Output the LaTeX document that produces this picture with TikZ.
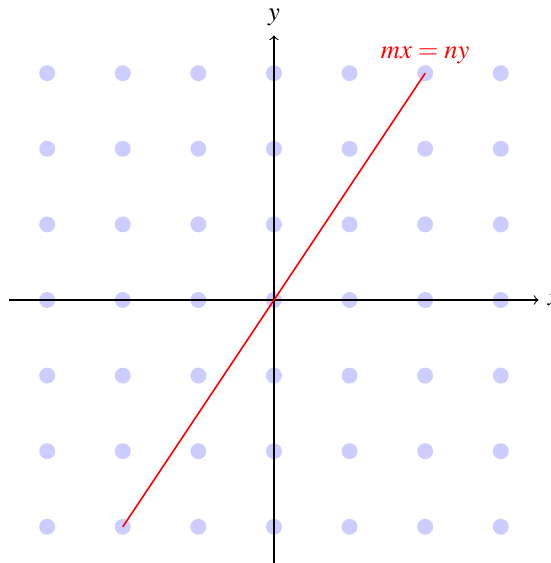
\documentclass[tikz,border=0pt]{standalone}
\usepackage{mathptmx}
\definecolor{latticeblue}{HTML}{CCCCFF}

\begin{document}
\begin{tikzpicture}
  % fixed frame so the page keeps the reference proportions
  \useasboundingbox (-3.624,-3.479) rectangle (3.664,3.968);
  % lattice points
  \foreach \i in {-3,...,3}
    \foreach \j in {-3,...,3}
      \fill[latticeblue] (\i,\j) circle (3pt);
  % axes
  \draw[->] (-3.5,0) -- (3.5,0) node[right] (xlab) {$x$};
  \draw[->] (0,-3.5) -- (0,3.5) node[above] (ylab) {$y$};
  % the line through the origin
  \coordinate (p) at (-2,-3);
  \coordinate (q) at (2,3);
  \draw[red, semithick] (p) -- (q) node[above] (eqlab) {$mx=ny$};
\end{tikzpicture}
\end{document}
